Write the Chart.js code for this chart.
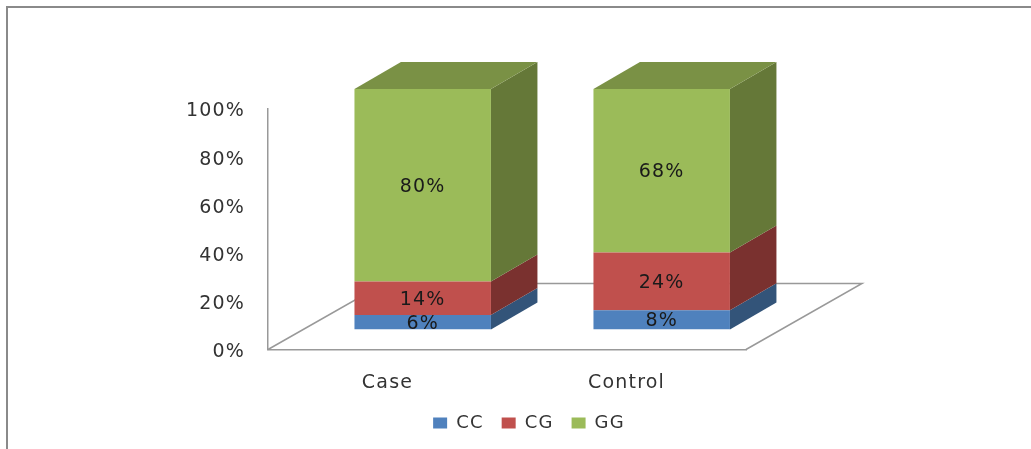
<!DOCTYPE html>
<html>
<head>
<meta charset="utf-8">
<style>
  html, body { margin: 0; padding: 0; background: #fff; }
  canvas { display: block; }
</style>
<script src="https://cdn.jsdelivr.net/npm/chart.js@4"></script>
</head>
<body>
<canvas id="chart" width="1031" height="449"></canvas>
<script>
const categories = ['Case', 'Control'];
const ccValues = [6, 8];
const cgValues = [14, 24];
const ggValues = [80, 68];
const seriesNames = ['CC', 'CG', 'GG'];
const frontColors = ['#4F81BD', '#C0504D', '#9BBB59'];
const sideColors = ['#335479', '#7A312F', '#657838'];
const topColors = ['#3E6390', '#94403D', '#7A9145'];
const yTicks = [0, 20, 40, 60, 80, 100];

// Oblique projection used for the pseudo-3D look
const FONT = 'DejaVu Sans';
const TRACKING = '1.2px';
const barShift = { x: 35.2, y: -20 };
const barDepth = { x: 46.5, y: -27 };
const floorDepth = { x: 116, y: -66 };

const boxPlugin = {
  id: 'box3d',
  beforeLayout(chart) {
    // Slightly open tracking, needed before labels are measured
    chart.ctx.letterSpacing = TRACKING;
  },
  beforeDraw(chart) {
    const { ctx, width, height } = chart;
    ctx.letterSpacing = TRACKING;
    // Frame of the figure: left and top rules only
    ctx.save();
    ctx.strokeStyle = '#8A8A8A';
    ctx.lineWidth = 2;
    ctx.beginPath();
    ctx.moveTo(7, height);
    ctx.lineTo(7, 7);
    ctx.lineTo(width, 7);
    ctx.stroke();
    ctx.restore();
  },
  beforeDatasetsDraw(chart) {
    const { ctx, chartArea: a } = chart;
    // Floor outline, sitting behind the bars
    ctx.save();
    ctx.strokeStyle = '#999999';
    ctx.lineWidth = 1.5;
    ctx.beginPath();
    ctx.moveTo(a.left, a.bottom);
    ctx.lineTo(a.left + floorDepth.x, a.bottom + floorDepth.y);
    ctx.lineTo(a.right + floorDepth.x, a.bottom + floorDepth.y);
    ctx.lineTo(a.right, a.bottom);
    ctx.stroke();
    ctx.restore();

    // Side and top faces, then the native front faces in the same shifted frame
    ctx.save();
    ctx.translate(barShift.x, barShift.y);
    chart.data.datasets.forEach((ds, i) => {
      chart.getDatasetMeta(i).data.forEach(el => {
        const r = el.x + el.width / 2;
        const l = el.x - el.width / 2;
        ctx.fillStyle = sideColors[i];
        ctx.beginPath();
        ctx.moveTo(r, el.y);
        ctx.lineTo(r + barDepth.x, el.y + barDepth.y);
        ctx.lineTo(r + barDepth.x, el.base + barDepth.y);
        ctx.lineTo(r, el.base);
        ctx.closePath();
        ctx.fill();
        if (i === chart.data.datasets.length - 1) {
          ctx.fillStyle = topColors[i];
          ctx.beginPath();
          ctx.moveTo(l, el.y);
          ctx.lineTo(l + barDepth.x, el.y + barDepth.y);
          ctx.lineTo(r + barDepth.x, el.y + barDepth.y);
          ctx.lineTo(r, el.y);
          ctx.closePath();
          ctx.fill();
        }
      });
    });
  },
  afterDatasetsDraw(chart) {
    const { ctx } = chart;
    // Value labels stay in the shifted frame opened above
    ctx.font = '19px "' + FONT + '"';
    ctx.fillStyle = '#1A1A1A';
    ctx.textAlign = 'center';
    ctx.textBaseline = 'middle';
    chart.data.datasets.forEach((ds, i) => {
      chart.getDatasetMeta(i).data.forEach((el, j) => {
        ctx.fillText(ds.data[j] + '%', el.x, (el.y + el.base) / 2 + 1.5);
      });
    });
    ctx.restore();
  },
  afterLayout(chart) {
    // The key sits under the bars, right of the plot centre
    chart.legend.left += 156;
    chart.legend.right += 156;
    chart.legend.top -= 7;
    chart.legend.bottom -= 7;
  }
};

new Chart(document.getElementById('chart'), {
  type: 'bar',
  data: {
    labels: categories,
    datasets: [ccValues, cgValues, ggValues].map((data, i) => ({
      label: seriesNames[i],
      data,
      backgroundColor: frontColors[i],
      borderWidth: 0,
      barPercentage: 0.571,
      categoryPercentage: 1
    }))
  },
  options: {
    responsive: false,
    animation: false,
    layout: { padding: { top: 109, right: 285, left: 0, bottom: 0 } },
    scales: {
      x: {
        stacked: true,
        grid: { display: false },
        border: { color: '#999999', width: 1.5 },
        ticks: { color: '#333333', font: { family: FONT, size: 19 }, padding: 14.5, maxRotation: 0 },
        afterFit(scale) { scale.height = 53.5; }
      },
      y: {
        stacked: true,
        min: 0,
        max: 100,
        grid: { display: false },
        border: { color: '#999999', width: 1.5 },
        afterBuildTicks(scale) { scale.ticks = yTicks.map(value => ({ value })); },
        ticks: {
          color: '#333333',
          font: { family: FONT, size: 19 },
          padding: 15,
          labelOffset: 2.5,
          callback: v => v + '%'
        },
        afterFit(scale) { scale.width = 268; }
      }
    },
    plugins: {
      tooltip: { enabled: false },
      legend: {
        position: 'bottom',
        labels: {
          boxWidth: 14,
          boxHeight: 11,
          padding: 18,
          color: '#333333',
          font: { family: FONT, size: 18 }
        }
      }
    }
  },
  plugins: [boxPlugin]
});
</script>
</body>
</html>
